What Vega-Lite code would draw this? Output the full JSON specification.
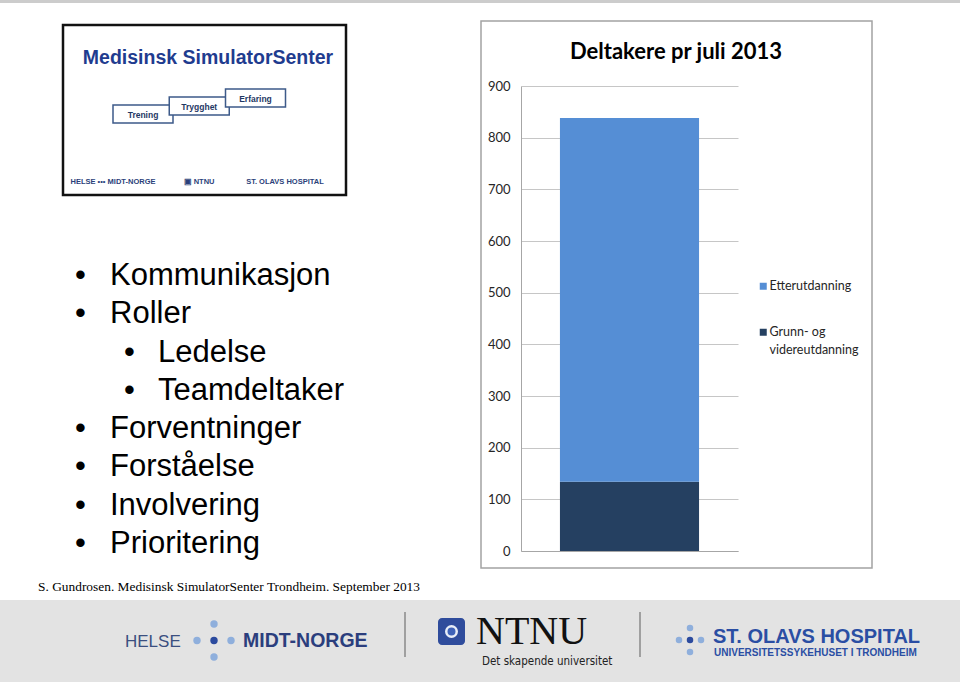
{
  "$schema": "https://vega.github.io/schema/vega-lite/v6.json",
  "width": 960,
  "height": 682,
  "autosize": {"type": "none"},
  "padding": 0,
  "background": "white",
  "config": {"view": {"stroke": null}, "font": "Lato"},
  "layer": [
    {
      "data": {"values": [{"flate": "toppkant"}]},
      "mark": {"type": "rect", "fill": "#cccccc"},
      "encoding": {
        "x": {"field": "flate", "type": "nominal", "scale": {"type": "band", "range": [0, 960], "paddingInner": 0, "paddingOuter": 0}, "axis": null},
        "y": {"field": "flate", "type": "nominal", "scale": {"type": "band", "range": [0, 3], "paddingInner": 0, "paddingOuter": 0}, "axis": null}
      }
    },
    {
      "data": {"values": [{"ramme": "diagram"}]},
      "mark": {"type": "rect", "fill": "transparent", "stroke": "#a3a3a3", "strokeWidth": 1.5},
      "encoding": {
        "x": {"field": "ramme", "type": "nominal", "scale": {"type": "band", "range": [481, 872], "paddingInner": 0, "paddingOuter": 0}, "axis": null},
        "y": {"field": "ramme", "type": "nominal", "scale": {"type": "band", "range": [21, 568], "paddingInner": 0, "paddingOuter": 0}, "axis": null}
      }
    },
    {
      "data": {"values": [{"ramme": "logo"}]},
      "mark": {"type": "rect", "fill": "transparent", "stroke": "#111111", "strokeWidth": 2.5},
      "encoding": {
        "x": {"field": "ramme", "type": "nominal", "scale": {"type": "band", "range": [63, 346], "paddingInner": 0, "paddingOuter": 0}, "axis": null},
        "y": {"field": "ramme", "type": "nominal", "scale": {"type": "band", "range": [25, 195], "paddingInner": 0, "paddingOuter": 0}, "axis": null}
      }
    },
    {
      "data": {"values": [{"tekst": "Medisinsk SimulatorSenter"}]},
      "mark": {"type": "text", "font": "Liberation Sans", "fontWeight": "bold", "fontSize": 19.5, "color": "#1f3c8f", "align": "center", "baseline": "alphabetic"},
      "encoding": {
        "x": {"field": "tekst", "type": "nominal", "scale": {"type": "point", "range": [208, 208], "padding": 0}, "axis": null},
        "y": {"field": "tekst", "type": "nominal", "scale": {"type": "point", "range": [64, 64], "padding": 0}, "axis": null},
        "text": {"field": "tekst"}
      }
    },
    {
      "data": {"values": [{"trinn": "Trening"}, {"trinn": "Trygghet"}, {"trinn": "Erfaring"}]},
      "mark": {"type": "rect", "width": 60, "height": 18, "fill": "white", "stroke": "#3d5a89", "strokeWidth": 1.5},
      "encoding": {
        "x": {"field": "trinn", "type": "nominal", "sort": null, "scale": {"type": "point", "range": [143, 255.5], "padding": 0}, "axis": null},
        "y": {"field": "trinn", "type": "nominal", "sort": null, "scale": {"type": "point", "range": [114, 98], "padding": 0}, "axis": null}
      }
    },
    {
      "data": {"values": [{"trinn": "Trening"}, {"trinn": "Trygghet"}, {"trinn": "Erfaring"}]},
      "mark": {"type": "text", "font": "Liberation Sans", "fontWeight": "bold", "fontSize": 8.5, "color": "#1f3864", "align": "center", "baseline": "middle"},
      "encoding": {
        "x": {"field": "trinn", "type": "nominal", "sort": null, "scale": {"type": "point", "range": [143, 255.5], "padding": 0}, "axis": null},
        "y": {"field": "trinn", "type": "nominal", "sort": null, "scale": {"type": "point", "range": [115, 99], "padding": 0}, "axis": null},
        "text": {"field": "trinn"}
      }
    },
    {
      "data": {"values": [{"logo": "HELSE ••• MIDT-NORGE"}, {"logo": "▣ NTNU"}, {"logo": "ST. OLAVS HOSPITAL"}]},
      "mark": {"type": "text", "font": "Liberation Sans", "fontWeight": "bold", "fontSize": 7.5, "color": "#2b3f7a", "align": "center", "baseline": "alphabetic"},
      "encoding": {
        "x": {"field": "logo", "type": "nominal", "sort": null, "scale": {"type": "point", "range": [113, 285], "padding": 0}, "axis": null},
        "y": {"field": "logo", "type": "nominal", "scale": {"type": "point", "range": [184, 184], "padding": 0}, "axis": null},
        "text": {"field": "logo"}
      }
    },
    {
      "data": {"values": [
        {"nr": 1, "punkt": "Kommunikasjon", "niva": 0},
        {"nr": 2, "punkt": "Roller", "niva": 0},
        {"nr": 3, "punkt": "Ledelse", "niva": 1},
        {"nr": 4, "punkt": "Teamdeltaker", "niva": 1},
        {"nr": 5, "punkt": "Forventninger", "niva": 0},
        {"nr": 6, "punkt": "Forståelse", "niva": 0},
        {"nr": 7, "punkt": "Involvering", "niva": 0},
        {"nr": 8, "punkt": "Prioritering", "niva": 0}
      ]},
      "mark": {"type": "text", "font": "Liberation Sans", "fontSize": 31, "color": "#000000", "align": "left", "baseline": "alphabetic"},
      "encoding": {
        "x": {"field": "niva", "type": "quantitative", "scale": {"domain": [0, 1], "range": [75, 124], "zero": false, "nice": false}, "axis": null},
        "y": {"field": "nr", "type": "ordinal", "scale": {"type": "point", "range": [285, 553], "padding": 0}, "axis": null},
        "text": {"value": "•"}
      }
    },
    {
      "data": {"values": [
        {"nr": 1, "punkt": "Kommunikasjon", "niva": 0},
        {"nr": 2, "punkt": "Roller", "niva": 0},
        {"nr": 3, "punkt": "Ledelse", "niva": 1},
        {"nr": 4, "punkt": "Teamdeltaker", "niva": 1},
        {"nr": 5, "punkt": "Forventninger", "niva": 0},
        {"nr": 6, "punkt": "Forståelse", "niva": 0},
        {"nr": 7, "punkt": "Involvering", "niva": 0},
        {"nr": 8, "punkt": "Prioritering", "niva": 0}
      ]},
      "mark": {"type": "text", "font": "Liberation Sans", "fontSize": 31, "color": "#000000", "align": "left", "baseline": "alphabetic"},
      "encoding": {
        "x": {"field": "niva", "type": "quantitative", "scale": {"domain": [0, 1], "range": [110, 158], "zero": false, "nice": false}, "axis": null},
        "y": {"field": "nr", "type": "ordinal", "scale": {"type": "point", "range": [285, 553], "padding": 0}, "axis": null},
        "text": {"field": "punkt"}
      }
    },
    {
      "data": {"values": [{"tekst": "S. Gundrosen. Medisinsk SimulatorSenter Trondheim. September 2013"}]},
      "mark": {"type": "text", "font": "Liberation Serif", "fontSize": 13.4, "color": "#000000", "align": "left", "baseline": "alphabetic"},
      "encoding": {
        "x": {"field": "tekst", "type": "nominal", "scale": {"type": "point", "range": [38, 38], "padding": 0}, "axis": null},
        "y": {"field": "tekst", "type": "nominal", "scale": {"type": "point", "range": [591, 591], "padding": 0}, "axis": null},
        "text": {"field": "tekst"}
      }
    },
    {
      "data": {"values": [{"flate": "bunnfelt"}]},
      "mark": {"type": "rect", "fill": "#e3e3e3"},
      "encoding": {
        "x": {"field": "flate", "type": "nominal", "scale": {"type": "band", "range": [0, 960], "paddingInner": 0, "paddingOuter": 0}, "axis": null},
        "y": {"field": "flate", "type": "nominal", "scale": {"type": "band", "range": [600, 682], "paddingInner": 0, "paddingOuter": 0}, "axis": null}
      }
    },
    {
      "data": {"values": [{"skille": "a", "fra": "topp", "til": "bunn"}, {"skille": "b", "fra": "topp", "til": "bunn"}]},
      "mark": {"type": "rule", "color": "#8a8a8a", "strokeWidth": 1.5},
      "encoding": {
        "x": {"field": "skille", "type": "nominal", "scale": {"type": "point", "range": [405, 640], "padding": 0}, "axis": null},
        "y": {"field": "fra", "type": "nominal", "scale": {"type": "point", "domain": ["topp", "bunn"], "range": [612, 657], "padding": 0}, "axis": null},
        "y2": {"field": "til"}
      }
    },
    {
      "data": {"values": [
        {"kol": "m", "rad": "o", "rolle": "arm"},
        {"kol": "v", "rad": "m", "rolle": "arm"},
        {"kol": "m", "rad": "m", "rolle": "kjerne"},
        {"kol": "h", "rad": "m", "rolle": "arm"},
        {"kol": "m", "rad": "n", "rolle": "arm"}
      ]},
      "mark": {"type": "point", "shape": "circle", "filled": true, "opacity": 1, "size": 55},
      "encoding": {
        "x": {"field": "kol", "type": "nominal", "scale": {"type": "point", "domain": ["v", "m", "h"], "range": [197, 231], "padding": 0}, "axis": null},
        "y": {"field": "rad", "type": "nominal", "scale": {"type": "point", "domain": ["o", "m", "n"], "range": [624, 657], "padding": 0}, "axis": null},
        "color": {"field": "rolle", "type": "nominal", "scale": {"domain": ["kjerne", "arm"], "range": ["#2b4a9e", "#8fafdc"]}, "legend": null}
      }
    },
    {
      "data": {"values": [
        {"kol": "m", "rad": "o", "rolle": "arm"},
        {"kol": "v", "rad": "m", "rolle": "arm"},
        {"kol": "m", "rad": "m", "rolle": "kjerne"},
        {"kol": "h", "rad": "m", "rolle": "arm"},
        {"kol": "m", "rad": "n", "rolle": "arm"}
      ]},
      "mark": {"type": "point", "shape": "circle", "filled": true, "opacity": 1, "size": 42},
      "encoding": {
        "x": {"field": "kol", "type": "nominal", "scale": {"type": "point", "domain": ["v", "m", "h"], "range": [679, 701], "padding": 0}, "axis": null},
        "y": {"field": "rad", "type": "nominal", "scale": {"type": "point", "domain": ["o", "m", "n"], "range": [628, 652], "padding": 0}, "axis": null},
        "color": {"field": "rolle", "type": "nominal", "scale": {"domain": ["kjerne", "arm"], "range": ["#2b4a9e", "#8fafdc"]}, "legend": null}
      }
    },
    {
      "data": {"values": [{"tekst": "HELSE"}]},
      "mark": {"type": "text", "font": "Liberation Sans", "fontSize": 17, "color": "#3b4f80", "align": "left", "baseline": "alphabetic"},
      "encoding": {
        "x": {"field": "tekst", "type": "nominal", "scale": {"type": "point", "range": [125, 125], "padding": 0}, "axis": null},
        "y": {"field": "tekst", "type": "nominal", "scale": {"type": "point", "range": [647, 647], "padding": 0}, "axis": null},
        "text": {"field": "tekst"}
      }
    },
    {
      "data": {"values": [{"tekst": "MIDT-NORGE"}]},
      "mark": {"type": "text", "font": "Liberation Sans", "fontWeight": "bold", "fontSize": 19.5, "color": "#2b3e7d", "align": "left", "baseline": "alphabetic"},
      "encoding": {
        "x": {"field": "tekst", "type": "nominal", "scale": {"type": "point", "range": [243, 243], "padding": 0}, "axis": null},
        "y": {"field": "tekst", "type": "nominal", "scale": {"type": "point", "range": [647, 647], "padding": 0}, "axis": null},
        "text": {"field": "tekst"}
      }
    },
    {
      "data": {"values": [{"ikon": "NTNU"}]},
      "mark": {"type": "rect", "fill": "#2f4c9c", "cornerRadius": 4},
      "encoding": {
        "x": {"field": "ikon", "type": "nominal", "scale": {"type": "band", "range": [438, 465], "paddingInner": 0, "paddingOuter": 0}, "axis": null},
        "y": {"field": "ikon", "type": "nominal", "scale": {"type": "band", "range": [618, 645], "paddingInner": 0, "paddingOuter": 0}, "axis": null}
      }
    },
    {
      "data": {"values": [{"ikon": "NTNU"}]},
      "mark": {"type": "point", "shape": "circle", "filled": true, "opacity": 1, "size": 110, "fill": "#3e62b8", "stroke": "#e8edf7", "strokeWidth": 2.5},
      "encoding": {
        "x": {"field": "ikon", "type": "nominal", "scale": {"type": "point", "range": [451.5, 451.5], "padding": 0}, "axis": null},
        "y": {"field": "ikon", "type": "nominal", "scale": {"type": "point", "range": [631.5, 631.5], "padding": 0}, "axis": null}
      }
    },
    {
      "data": {"values": [{"tekst": "NTNU"}]},
      "mark": {"type": "text", "font": "Liberation Serif", "fontSize": 40, "color": "#111111", "align": "left", "baseline": "alphabetic"},
      "encoding": {
        "x": {"field": "tekst", "type": "nominal", "scale": {"type": "point", "range": [476, 476], "padding": 0}, "axis": null},
        "y": {"field": "tekst", "type": "nominal", "scale": {"type": "point", "range": [644, 644], "padding": 0}, "axis": null},
        "text": {"field": "tekst"}
      }
    },
    {
      "data": {"values": [{"tekst": "Det skapende universitet"}]},
      "mark": {"type": "text", "font": "DejaVu Sans Condensed, Liberation Sans Narrow, Roboto", "fontSize": 11.5, "color": "#222222", "align": "left", "baseline": "alphabetic"},
      "encoding": {
        "x": {"field": "tekst", "type": "nominal", "scale": {"type": "point", "range": [482, 482], "padding": 0}, "axis": null},
        "y": {"field": "tekst", "type": "nominal", "scale": {"type": "point", "range": [665, 665], "padding": 0}, "axis": null},
        "text": {"field": "tekst"}
      }
    },
    {
      "data": {"values": [{"tekst": "ST. OLAVS HOSPITAL"}]},
      "mark": {"type": "text", "font": "Liberation Sans", "fontWeight": "bold", "fontSize": 20, "color": "#2a4ea3", "align": "left", "baseline": "alphabetic"},
      "encoding": {
        "x": {"field": "tekst", "type": "nominal", "scale": {"type": "point", "range": [713, 713], "padding": 0}, "axis": null},
        "y": {"field": "tekst", "type": "nominal", "scale": {"type": "point", "range": [643, 643], "padding": 0}, "axis": null},
        "text": {"field": "tekst"}
      }
    },
    {
      "data": {"values": [{"tekst": "UNIVERSITETSSYKEHUSET I TRONDHEIM"}]},
      "mark": {"type": "text", "font": "Liberation Sans", "fontWeight": "bold", "fontSize": 10, "color": "#2a4ea3", "align": "left", "baseline": "alphabetic"},
      "encoding": {
        "x": {"field": "tekst", "type": "nominal", "scale": {"type": "point", "range": [714, 714], "padding": 0}, "axis": null},
        "y": {"field": "tekst", "type": "nominal", "scale": {"type": "point", "range": [656, 656], "padding": 0}, "axis": null},
        "text": {"field": "tekst"}
      }
    },
    {
      "data": {"values": [{"tittel": "Deltakere pr juli 2013"}]},
      "mark": {"type": "text", "font": "Lato", "fontWeight": "bold", "fontSize": 22, "color": "#000000", "align": "center", "baseline": "alphabetic"},
      "encoding": {
        "x": {"field": "tittel", "type": "nominal", "scale": {"type": "point", "range": [676, 676], "padding": 0}, "axis": null},
        "y": {"field": "tittel", "type": "nominal", "scale": {"type": "point", "range": [59, 59], "padding": 0}, "axis": null},
        "text": {"field": "tittel"}
      }
    },
    {
      "data": {"values": [
        {"periode": "pr juli 2013", "kategori": "Grunn- og videreutdanning", "antall": 134},
        {"periode": "pr juli 2013", "kategori": "Etterutdanning", "antall": 704}
      ]},
      "mark": {"type": "bar"},
      "encoding": {
        "x": {
          "field": "periode", "type": "nominal",
          "scale": {"type": "band", "range": [521, 738], "paddingInner": 0, "paddingOuter": 0.28},
          "axis": {"title": null, "labels": false, "ticks": false, "grid": false, "domain": true, "domainColor": "#a6a6a6", "domainWidth": 1, "offset": -131}
        },
        "y": {
          "field": "antall", "type": "quantitative", "stack": "zero",
          "scale": {"domain": [0, 900], "range": [551, 86], "nice": false},
          "axis": {
            "title": null, "values": [0, 100, 200, 300, 400, 500, 600, 700, 800, 900],
            "grid": true, "gridColor": "#c6c6c6", "gridWidth": 1,
            "ticks": false, "tickSize": 0, "domain": true, "domainColor": "#a6a6a6",
            "labelPadding": 11, "labelFont": "Lato", "labelFontSize": 13, "labelColor": "#262626",
            "offset": -521
          }
        },
        "color": {
          "field": "kategori", "type": "nominal",
          "scale": {"domain": ["Etterutdanning", "Grunn- og videreutdanning"], "range": ["#558ED5", "#254061"]},
          "legend": {
            "title": null, "orient": "none", "legendX": 757, "legendY": 280,
            "symbolType": "square", "symbolSize": 49, "symbolStrokeWidth": 0,
            "labelFont": "Lato", "labelFontSize": 12.5, "labelColor": "#262626", "labelOffset": 0,
            "rowPadding": 33, "padding": 0, "labelLimit": 0,
            "labelExpr": "datum.label == 'Grunn- og videreutdanning' ? ['Grunn- og', 'videreutdanning'] : datum.label",
            "encode": {"labels": {"update": {"lineHeight": {"value": 18}}}}
          }
        },
        "order": {"field": "kategori", "sort": "descending"}
      }
    }
  ],
  "resolve": {
    "scale": {"x": "independent", "y": "independent", "color": "independent"},
    "axis": {"x": "independent", "y": "independent"},
    "legend": {"color": "independent"}
  }
}
